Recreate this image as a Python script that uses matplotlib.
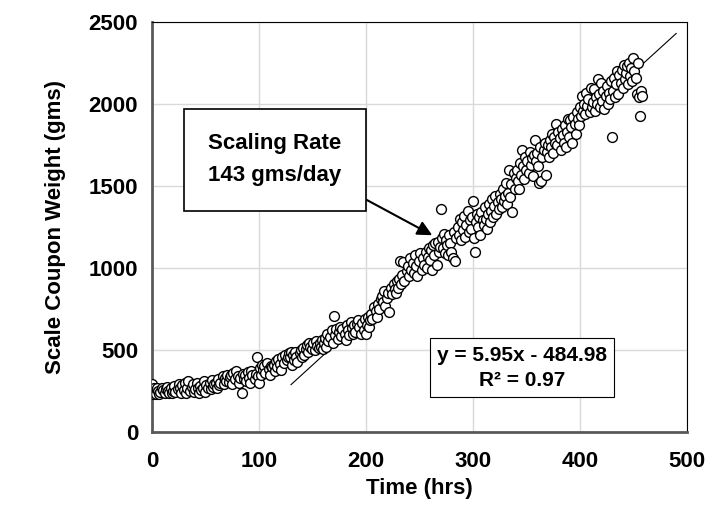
import numpy as np
import matplotlib as mpl
import matplotlib.pyplot as plt

mpl.rcParams['font.family'] = ['Liberation Sans Narrow', 'Liberation Sans', 'DejaVu Sans']
mpl.rcParams['font.weight'] = 'bold'

#--------------------------------------------------
# data (time in hrs, coupon weight in gms)
#--------------------------------------------------
time_hrs = [
    0, 1, 2, 3, 4, 5, 6, 7, 8, 9, 10, 12, 13, 14, 15, 16, 18, 19, 20, 21, 22,
    24, 25, 26, 27, 28, 30, 31, 32, 33, 34, 36, 37, 38, 39, 40, 42, 43, 44, 45, 46,
    48, 49, 50, 51, 52, 54, 55, 56, 57, 58, 60,
    61, 62, 63, 64, 66, 67, 68, 69, 70, 72, 73, 74, 75, 76, 78, 79, 80, 81, 82,
    84, 85, 86, 87, 88, 90, 91, 92, 93, 94, 96, 97, 98, 99,
    100, 101, 102, 103, 104, 105, 106, 108, 109, 110, 111, 112, 114, 115, 116, 117, 118,
    120, 121, 122, 123, 124, 126, 127, 128, 129, 130,
    131, 132, 133, 134, 135, 136, 138, 139, 140, 141, 142, 144, 145, 146, 147, 148,
    150, 151, 152, 153, 154, 156, 157, 158, 159, 160,
    161, 162, 163, 164, 165, 166, 168, 169, 170, 171, 172, 174, 175, 176, 177, 178,
    180, 181, 182, 183, 184, 186, 187, 188, 189, 190, 192, 193, 194, 195, 196, 198, 199,
    200, 201, 202, 203, 204, 205, 206, 208, 209, 210, 211, 212, 214, 215, 216, 217, 218,
    220, 221, 222, 223, 224, 226, 227, 228, 229, 230,
    231, 232, 233, 234, 235, 236, 238, 239, 240, 241, 242, 244, 245, 246, 247, 248,
    250, 251, 252, 253, 254, 256, 257, 258, 259, 260,
    261, 262, 263, 264, 265, 266, 267, 268, 269, 270, 271, 272, 273, 274, 275, 276,
    277, 278, 279, 280, 281, 282, 283, 284,
    286, 287, 288, 289, 290, 291, 292, 293, 294, 295, 296, 297, 298, 299, 300, 301,
    302, 303, 304, 305, 306, 307, 308, 309, 310, 311, 312, 313, 314, 315, 316, 317,
    318, 319, 320, 321, 322, 323, 324, 325, 326, 327, 328, 329, 330, 331, 332, 333,
    334, 335, 336, 337, 338, 339, 340,
    341, 342, 343, 344, 345, 346, 347, 348, 349, 350, 351, 352, 353, 354, 355, 356,
    357, 358, 359, 360, 361, 362, 363, 364, 365, 366, 367, 368, 369, 370,
    371, 372, 373, 374, 375, 376, 377, 378, 379, 380, 381, 382, 383, 384, 385, 386,
    387, 388, 389, 390, 391, 392, 393, 394, 395, 396, 397, 398, 399, 400,
    401, 402, 403, 404, 405, 406, 407, 408, 409, 410, 411, 412, 413, 414, 415, 416,
    417, 418, 419, 420, 421, 422, 423, 424, 425, 426, 427, 428, 429, 430,
    431, 432, 433, 434, 435, 436, 437, 438, 439, 440, 441, 442, 443, 444, 445, 446,
    447, 448, 449, 450, 451, 452, 453, 454, 455, 456, 457, 458,
]
weight_gms = [
    290, 230, 270, 240, 230, 265, 250, 230, 245, 270, 255, 235, 260, 275, 250, 240, 265, 235, 250, 280,
    245, 260, 290, 270, 240, 285, 255, 300, 235, 265, 310, 250, 275, 290, 245, 260, 300, 270, 240, 280,
    255, 265, 310, 245, 285, 270, 300, 260, 315, 275, 290, 300,
    270, 320, 285, 300, 340, 295, 330, 310, 345, 305, 335, 350, 290, 360, 325, 370, 340, 300, 330, 240,
    355, 320, 345, 310, 365, 330, 300, 370, 345, 320, 355, 460, 340,
    300, 390, 350, 410, 375, 400, 360, 420, 385, 345, 405, 395, 410, 370, 430, 395, 445, 415, 380, 455,
    420, 470, 440, 460, 480, 455, 490,
    410, 470, 440, 490, 455, 425, 480, 500, 460, 515, 470, 505, 530, 490, 545, 520, 505, 540, 500, 555,
    525, 510, 545, 520, 560, 505,
    540, 570, 520, 600, 555, 580, 620, 545, 710, 590, 625, 565, 610, 640, 585, 630, 600, 560, 655, 620,
    590, 670, 635, 600, 650, 610, 660, 680, 640, 600, 665, 620, 690,
    600, 650, 700, 640, 680, 720, 690, 760, 740, 700, 780, 750, 810, 830, 790, 860, 770, 820, 850, 730,
    880, 840, 900, 870, 850, 920, 880,
    930, 1040, 900, 960, 1035, 920, 980, 1010, 950, 1060, 990, 1030, 970, 1080, 1010, 950, 1040, 1090,
    990, 1060, 1020, 1100, 1000, 1070, 1120, 1050,
    1110, 990, 1140, 1080, 1150, 1020, 1160, 1100, 1130, 1360, 1180, 1120, 1210, 1090, 1170, 1140,
    1080, 1200, 1150, 1100, 1060, 1220, 1040, 1180,
    1250, 1200, 1300, 1170, 1280, 1230, 1320, 1190, 1260, 1350, 1220, 1290, 1240, 1310, 1410, 1180,
    1100, 1280, 1330, 1250, 1310, 1200, 1340, 1290, 1260, 1370, 1300, 1240, 1330, 1390, 1280, 1350,
    1420, 1310, 1380, 1440, 1330, 1400, 1360, 1450, 1420, 1370, 1480, 1410, 1440, 1520, 1390, 1460,
    1600, 1430, 1510, 1340, 1580, 1480, 1550,
    1600, 1530, 1480, 1640, 1570, 1720, 1620, 1540, 1680, 1600, 1650, 1580, 1710, 1630, 1670, 1560,
    1690, 1780, 1650, 1700, 1620, 1520, 1740, 1530, 1680, 1720, 1760, 1570, 1710, 1750,
    1680, 1780, 1740, 1820, 1700, 1800, 1760, 1880, 1750, 1830, 1790, 1720, 1850, 1810, 1760, 1870,
    1740, 1830, 1910, 1800, 1900, 1860, 1760, 1920, 1880, 1820, 1950, 1910, 1870, 1980,
    1930, 2050, 1960, 2000, 1940, 2070, 1990, 2030, 1950, 2100, 1980, 2010, 2090, 1960, 2040, 2000,
    2150, 2060, 1980, 2130, 2020, 2080, 1970, 2050, 2110, 2000, 2070, 2030, 2140, 1800,
    2080, 2160, 2040, 2120, 2200, 2060, 2180, 2130, 2210, 2100, 2240, 2150, 2190, 2230, 2120, 2250,
    2170, 2220, 2140, 2280, 2200, 2160, 2060, 2250, 2040, 1930, 2080, 2050,
]

# linear trend from the chart
slope = 5.95
intercept = -484.98
r_squared = 0.97
trend_x = [130, 490]

#--------------------------------------------------
# plot
#--------------------------------------------------
fig = plt.figure(figsize=(7.2, 5.13), dpi=100)
ax = fig.add_axes([0.211, 0.158, 0.743, 0.799])

ax.grid(True, color='#d9d9d9', linewidth=1.0, zorder=0)
ax.set_axisbelow(True)

tx = np.array(trend_x)
ax.plot(tx, slope * tx + intercept, color='black', linewidth=0.8, zorder=2)

ax.scatter(time_hrs, weight_gms, s=50, facecolors='white', edgecolors='black',
           linewidths=1.0, zorder=3)

ax.set_xlim(0, 500)
ax.set_ylim(0, 2500)
ax.set_xticks([0, 100, 200, 300, 400, 500])
ax.set_yticks([0, 500, 1000, 1500, 2000, 2500])
ax.tick_params(axis='x', length=0, labelsize=16, pad=14)
ax.tick_params(axis='y', length=0, labelsize=16, pad=10)
for lbl in ax.get_xticklabels() + ax.get_yticklabels():
    lbl.set_fontweight('bold')

for side in ['left', 'bottom']:
    ax.spines[side].set_color('#595959')
    ax.spines[side].set_linewidth(2.0)
for side in ['top', 'right']:
    ax.spines[side].set_color('black')
    ax.spines[side].set_linewidth(0.8)

ax.set_xlabel('Time (hrs)', fontsize=16, fontweight='bold', labelpad=4)
ax.set_ylabel('Scale Coupon Weight (gms)', fontsize=16, fontweight='bold', labelpad=16)

ax.annotate('Scaling Rate\n143 gms/day', xy=(262, 1200), xytext=(115, 1660),
            ha='center', va='center', fontsize=16, fontweight='bold', linespacing=1.7,
            bbox=dict(boxstyle='square,pad=1.1', fc='white', ec='black', lw=1.2),
            arrowprops=dict(arrowstyle='-|>', color='black', lw=1.5,
                            mutation_scale=22, relpos=(1.0, 0.0), shrinkA=0, shrinkB=0),
            zorder=5)

ax.text(346, 393, 'y = %.2fx - %.2f\nR\u00b2 = %.2f' % (slope, -intercept, r_squared),
        ha='center', va='center', fontsize=15, fontweight='bold', linespacing=1.4,
        bbox=dict(boxstyle='square,pad=0.35', fc='white', ec='black', lw=0.8), zorder=5)

plt.savefig('out.png', dpi=100)
